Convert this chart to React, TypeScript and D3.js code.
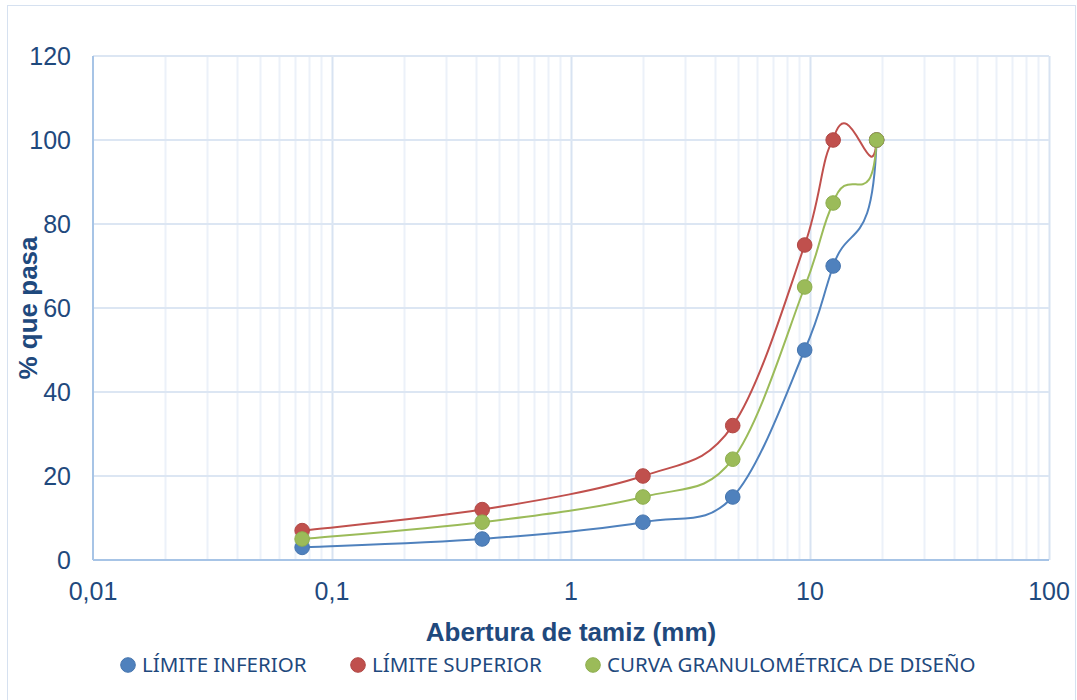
import React, { useEffect, useRef } from 'react';
import * as d3 from 'd3';

// sieve openings (mm) and % passing
const tamices = [0.075, 0.425, 2.0, 4.75, 9.5, 12.5, 19.0];
const limiteInferior = [3, 5, 9, 15, 50, 70, 100];
const limiteSuperior = [7, 12, 20, 32, 75, 100, 100];
const curvaDiseno = [5, 9, 15, 24, 65, 85, 100];

const seriesNames = ['LÍMITE INFERIOR', 'LÍMITE SUPERIOR', 'CURVA GRANULOMÉTRICA DE DISEÑO'];
const seriesColors = ['#4F81BD', '#C0504D', '#9BBB59'];
const seriesStroke = ['#4675AE', '#B14845', '#8DAE4E'];

const xTicks = [0.01, 0.1, 1, 10, 100];
const yTicks = [0, 20, 40, 60, 80, 100, 120];

// rough imitation of Excel's "smoothed line": catmull-rom beziers,
// with Excel's odd overshoot on the last (short) segment
function excelSmooth(pts: [number, number][]) {
    const n = pts.length;
    const k = 0.55;
    // control offsets: [incoming, outgoing] for every point
    const ctrl = pts.map((p, i) => {
        const prev = pts[Math.max(i - 1, 0)];
        const next = pts[Math.min(i + 1, n - 1)];
        const t = [(next[0] - prev[0]) / 6, (next[1] - prev[1]) / 6];
        return { inc: t, out: t };
    });
    if (n > 3) {
        const a = pts[n - 3], b = pts[n - 2], c = pts[n - 1];
        ctrl[n - 2].out = [(b[0] - a[0]) * k, (b[1] - a[1]) * k];
        ctrl[n - 1].inc = [(c[0] - b[0]) * 0.1, (c[1] - a[1]) * k];
    }
    const path = d3.path();
    path.moveTo(pts[0][0], pts[0][1]);
    for (let i = 0; i < n - 1; i++) {
        const a = pts[i];
        const b = pts[i + 1];
        path.bezierCurveTo(
            a[0] + ctrl[i].out[0], a[1] + ctrl[i].out[1],
            b[0] - ctrl[i + 1].inc[0], b[1] - ctrl[i + 1].inc[1],
            b[0], b[1]
        );
    }
    return path.toString();
}

const App = () => {
    const ref = useRef<SVGSVGElement>(null);

    useEffect(() => {
        const svg = d3.select(ref.current);
        svg.selectAll('*').remove();

        const width = 1077;
        const height = 700;
        const margin = { top: 56, right: 28, bottom: 140, left: 93 };
        const innerW = width - margin.left - margin.right;
        const innerH = height - margin.top - margin.bottom;
        const textColor = '#1F497D';
        const font = 'Liberation Sans, Arial, sans-serif';

        // chart border
        svg.append('rect')
            .attr('x', 7.5).attr('y', 5.5)
            .attr('width', width - 9).attr('height', height)
            .attr('fill', '#fff')
            .attr('stroke', '#D6E1F0');

        const g = svg.append('g')
            .attr('transform', `translate(${margin.left},${margin.top})`);

        // scales
        const xScale = d3.scaleLog().domain([0.01, 100]).range([0, innerW]);
        const yScale = d3.scaleLinear().domain([0, 120]).range([innerH, 0]);

        // minor vertical grid
        const minor: number[] = [];
        [0.01, 0.1, 1, 10].forEach(dec => {
            for (let i = 2; i <= 9; i++) minor.push(dec * i);
        });
        g.selectAll('.minor')
            .data(minor)
            .enter()
            .append('line')
            .attr('x1', d => Math.round(xScale(d)) + 0.5)
            .attr('x2', d => Math.round(xScale(d)) + 0.5)
            .attr('y1', 0).attr('y2', innerH)
            .attr('stroke', '#ECF1F9')
            .attr('stroke-width', 2);

        // major vertical grid
        g.selectAll('.major')
            .data(xTicks.slice(1))
            .enter()
            .append('line')
            .attr('x1', d => Math.round(xScale(d)) + 0.5)
            .attr('x2', d => Math.round(xScale(d)) + 0.5)
            .attr('y1', 0).attr('y2', innerH)
            .attr('stroke', '#D8E3F2')
            .attr('stroke-width', 2);

        // horizontal grid
        g.selectAll('.hgrid')
            .data(yTicks.slice(1))
            .enter()
            .append('line')
            .attr('x1', 0).attr('x2', innerW)
            .attr('y1', d => yScale(d)).attr('y2', d => yScale(d))
            .attr('stroke', '#DCE6F3')
            .attr('stroke-width', 2);

        // axis lines
        g.append('line')
            .attr('x1', 0).attr('x2', 0).attr('y1', 0).attr('y2', innerH)
            .attr('stroke', '#A7C4E6').attr('stroke-width', 2);
        g.append('line')
            .attr('x1', 0).attr('x2', innerW).attr('y1', innerH).attr('y2', innerH)
            .attr('stroke', '#A7C4E6').attr('stroke-width', 2);

        // tick labels
        g.selectAll('.ylab')
            .data(yTicks)
            .enter()
            .append('text')
            .attr('x', -22)
            .attr('y', d => yScale(d) + 9)
            .attr('text-anchor', 'end')
            .attr('font-family', font)
            .attr('font-size', 25)
            .attr('fill', textColor)
            .text(d => d);

        g.selectAll('.xlab')
            .data(xTicks)
            .enter()
            .append('text')
            .attr('x', d => xScale(d))
            .attr('y', innerH + 40)
            .attr('text-anchor', 'middle')
            .attr('font-family', font)
            .attr('font-size', 25)
            .attr('fill', textColor)
            .text(d => String(d).replace('.', ','));

        // series
        const all = [limiteInferior, limiteSuperior, curvaDiseno];

        all.forEach((vals, i) => {
            const pts = tamices.map((t, j) => [xScale(t), yScale(vals[j])] as [number, number]);
            g.append('path')
                .attr('d', excelSmooth(pts))
                .attr('fill', 'none')
                .attr('stroke', seriesColors[i])
                .attr('stroke-width', 2);
        });

        all.forEach((vals, i) => {
            g.selectAll(`.pt${i}`)
                .data(tamices.map((t, j) => [t, vals[j]]))
                .enter()
                .append('circle')
                .attr('cx', d => xScale(d[0]))
                .attr('cy', d => yScale(d[1]))
                .attr('r', 7.3)
                .attr('fill', seriesColors[i])
                .attr('stroke', seriesStroke[i])
                .attr('stroke-width', 1);
        });

        // axis titles
        svg.append('text')
            .attr('x', margin.left + xScale(1))
            .attr('y', 641)
            .attr('text-anchor', 'middle')
            .attr('font-family', font)
            .attr('font-weight', 'bold')
            .attr('font-size', 26)
            .attr('fill', textColor)
            .text('Abertura de tamiz (mm)');

        svg.append('text')
            .attr('transform', `translate(37, ${margin.top + innerH / 2}) rotate(-90)`)
            .attr('text-anchor', 'middle')
            .attr('font-family', font)
            .attr('font-weight', 'bold')
            .attr('font-size', 26)
            .attr('fill', textColor)
            .text('% que pasa');

        // legend
        const legendX = [128, 358, 593];
        seriesNames.forEach((name, i) => {
            svg.append('circle')
                .attr('cx', legendX[i])
                .attr('cy', 665)
                .attr('r', 7.3)
                .attr('fill', seriesColors[i])
                .attr('stroke', seriesStroke[i]);
            svg.append('text')
                .attr('x', legendX[i] + 14)
                .attr('y', 672)
                .attr('font-family', 'Noto Sans, sans-serif')
                .attr('font-size', 20.5)
                .attr('fill', textColor)
                .text(name);
        });
    }, []);

    return (
        <svg ref={ref} width={1077} height={700}
             style={{ position: 'absolute', left: 0, top: 0, background: '#fff' }} />
    );
};

export default App;
